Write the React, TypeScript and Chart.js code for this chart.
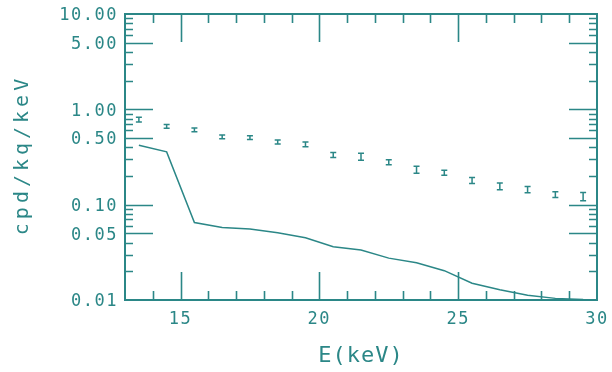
import { useEffect, useRef } from "react";
import { Chart, registerables } from "chart.js";

Chart.register(...registerables);

// Energy bin centres (keV)
const energyBins = [
  13.5, 14.5, 15.5, 16.5, 17.5, 18.5, 19.5, 20.5, 21.5, 22.5, 23.5, 24.5, 25.5,
  26.5, 27.5, 28.5, 29.5,
];

// Measured rate with its statistical error (cpd/kg/keV)
const measuredRate = [
  0.78, 0.665, 0.61, 0.515, 0.505, 0.455, 0.43, 0.333, 0.32, 0.279, 0.233,
  0.216, 0.18, 0.156, 0.144, 0.128, 0.122,
];
const measuredErr = [
  0.045, 0.03, 0.028, 0.024, 0.023, 0.021, 0.025, 0.02, 0.027, 0.017, 0.02,
  0.013, 0.013, 0.013, 0.011, 0.009, 0.012,
];

// Expected background curve (cpd/kg/keV)
const expectedRate = [
  0.42, 0.358, 0.065, 0.0576, 0.0555, 0.0508, 0.045, 0.0362, 0.0335, 0.0275,
  0.0246, 0.0203, 0.015, 0.0128, 0.0112, 0.0104, 0.0101,
];

// Axis ticks
const xTickValues = [15, 20, 25, 30];
const xMajorMarks = [15, 20, 25];
const yTickValues = [0.01, 0.05, 0.1, 0.5, 1, 5, 10];
const X_MIN = 13;
const X_MAX = 30;
const Y_MIN = 0.01;
const Y_MAX = 10;

const INK = "#2b8787";
const MONO = "'DejaVu Sans Mono', monospace";

const zeroPadding = (s: any) => {
  s.paddingLeft = 0;
  s.paddingRight = 0;
  s.paddingTop = 0;
  s.paddingBottom = 0;
};

const framePlugin = {
  id: "frameTicksErrors",
  beforeDraw(chart: any) {
    chart.ctx.letterSpacing = "1.5px";
  },
  afterDatasetsDraw(chart: any) {
    const ctx: CanvasRenderingContext2D = chart.ctx;
    const { left, right, top, bottom } = chart.chartArea;
    const xs = chart.scales.x;
    const ys = chart.scales.y;
    ctx.save();
    ctx.strokeStyle = INK;

    // inward tick marks on all four sides
    ctx.lineWidth = 1.6;
    ctx.beginPath();
    for (let v = X_MIN + 1; v < X_MAX; v++) {
      const px = Math.round(xs.getPixelForValue(v)) + 0.5;
      const len = xMajorMarks.includes(v) ? 28 : 9;
      ctx.moveTo(px, bottom);
      ctx.lineTo(px, bottom - len);
      ctx.moveTo(px, top);
      ctx.lineTo(px, top + len);
    }
    for (const decade of [0.01, 0.1, 1]) {
      for (let m = 1; m <= 9; m++) {
        const v = decade * m;
        if (v <= Y_MIN * 1.0001 || v >= Y_MAX * 0.9999) continue;
        const py = Math.round(ys.getPixelForValue(v)) + 0.5;
        const len = m === 1 || m === 5 ? 28 : 8;
        ctx.moveTo(left, py);
        ctx.lineTo(left + len, py);
        ctx.moveTo(right, py);
        ctx.lineTo(right - len, py);
      }
    }
    ctx.stroke();

    // error bars of the measured rate
    ctx.lineWidth = 1.5;
    ctx.beginPath();
    energyBins.forEach((e, i) => {
      const px = xs.getPixelForValue(e);
      const y0 = ys.getPixelForValue(measuredRate[i] - measuredErr[i]);
      const y1 = ys.getPixelForValue(measuredRate[i] + measuredErr[i]);
      ctx.moveTo(px, y0);
      ctx.lineTo(px, y1);
      ctx.moveTo(px - 3, y0);
      ctx.lineTo(px + 3, y0);
      ctx.moveTo(px - 3, y1);
      ctx.lineTo(px + 3, y1);
    });
    ctx.stroke();

    // frame
    ctx.lineWidth = 2;
    ctx.strokeRect(left, top, right - left, bottom - top);
    ctx.restore();
  },
  afterDraw(chart: any) {
    const ctx: CanvasRenderingContext2D = chart.ctx;
    const { left, right, top, bottom } = chart.chartArea;
    ctx.save();
    ctx.fillStyle = INK;
    ctx.textAlign = "center";
    ctx.textBaseline = "middle";

    ctx.font = `22px ${MONO}`;
    ctx.letterSpacing = "1px";
    ctx.fillText("E(keV)", (left + right) / 2, 356);

    ctx.translate(23, (top + bottom) / 2 - 2);
    ctx.rotate(-Math.PI / 2);
    ctx.font = `20px ${MONO}`;
    ctx.letterSpacing = "4px";
    ctx.fillText("cpd/kq/keV", 0, 0);
    ctx.restore();
    ctx.letterSpacing = "0px";
  },
};

export default function App() {
  const canvasRef = useRef<HTMLCanvasElement | null>(null);

  useEffect(() => {
    const canvas = canvasRef.current;
    if (!canvas) return;
    const chart = new Chart(canvas, {
      type: "line",
      data: {
        datasets: [
          {
            label: "expected",
            data: energyBins.map((e, i) => ({ x: e, y: expectedRate[i] })),
            borderColor: INK,
            borderWidth: 1.5,
            pointRadius: 0,
            tension: 0,
            fill: false,
          },
          {
            label: "measured",
            data: energyBins.map((e, i) => ({ x: e, y: measuredRate[i] })),
            showLine: false,
            pointRadius: 0,
            borderColor: INK,
          },
        ],
      },
      options: {
        animation: false,
        responsive: false,
        devicePixelRatio: 1,
        layout: { padding: { top: 14, right: 15, left: 0, bottom: 0 } },
        plugins: { legend: { display: false }, tooltip: { enabled: false } },
        scales: {
          x: {
            type: "linear",
            min: X_MIN,
            max: X_MAX,
            grid: { display: false, drawTicks: false },
            border: { display: false },
            afterBuildTicks: (s: any) => {
              s.ticks = xTickValues.map((v) => ({ value: v }));
            },
            afterFit: (s: any) => {
              s.height = 72;
              zeroPadding(s);
            },
            ticks: {
              autoSkip: false,
              maxRotation: 0,
              padding: 9,
              color: INK,
              font: { family: MONO, size: 17 },
              callback: (v: any) => String(v),
            },
          },
          y: {
            type: "logarithmic",
            min: Y_MIN,
            max: Y_MAX,
            grid: { display: false, drawTicks: false },
            border: { display: false },
            afterBuildTicks: (s: any) => {
              s.ticks = yTickValues.map((v) => ({ value: v }));
            },
            afterFit: (s: any) => {
              s.width = 125;
              zeroPadding(s);
            },
            ticks: {
              autoSkip: false,
              padding: 7,
              labelOffset: 2,
              color: INK,
              font: { family: MONO, size: 17 },
              callback: (v: any) => Number(v).toFixed(2),
            },
          },
        },
      },
      plugins: [framePlugin],
    });
    return () => chart.destroy();
  }, []);

  return (
    <div style={{ position: "absolute", left: 0, top: 0, width: 612, height: 372, background: "#fff" }}>
      <canvas ref={canvasRef} width={612} height={372} />
    </div>
  );
}
